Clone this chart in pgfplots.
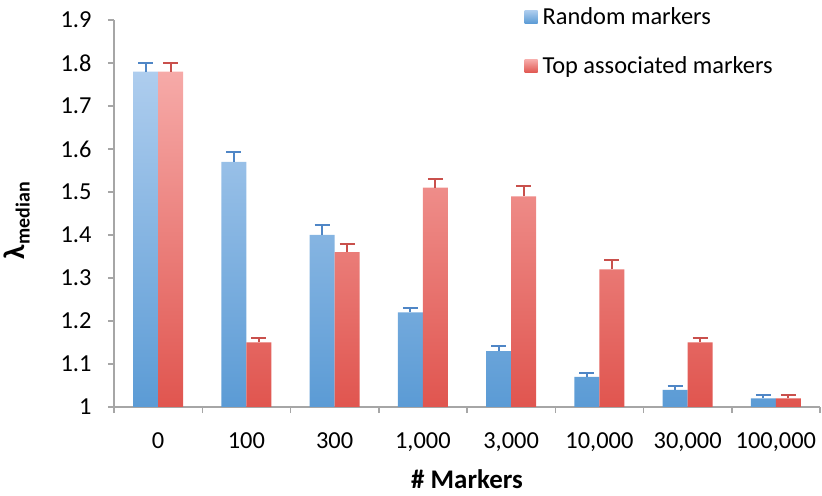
\documentclass[border=0pt]{standalone}
\usepackage{pgfplots}
\pgfplotsset{compat=1.18}
\usepackage{fontspec}
\setmainfont{Carlito}
\definecolor{bluetop}{HTML}{AECDEE}
\definecolor{bluebot}{HTML}{5B9BD5}
\definecolor{redtop}{HTML}{F6AAA8}
\definecolor{redbot}{HTML}{E0554F}
\definecolor{blueerr}{HTML}{4F86C6}
\definecolor{rederr}{HTML}{C9504C}
\definecolor{axgray}{HTML}{A6A6A6}
\begin{document}
\begin{tikzpicture}
\path[use as bounding box] (0,0) rectangle (822bp,496bp);
\begin{axis}[
  at={(114bp,89bp)}, anchor=south west,
  scale only axis, width=706bp, height=387bp,
  xmin=-0.5, xmax=7.5, ymin=1, ymax=1.9,
  axis lines*=left,
  axis line style={draw=axgray, line width=1.5bp},
  xtick={0,...,7},
  xticklabels={0,100,300,{1,000},{3,000},{10,000},{30,000},{100,000}},
  minor xtick={-0.5,0.5,...,7.5},
  ytick={1,1.1,...,1.9},
  yticklabels={1,1.1,1.2,1.3,1.4,1.5,1.6,1.7,1.8,1.9},
  tick align=outside,
  major x tick style={draw=none},
  minor x tick style={draw=axgray, line width=1.5bp},
  major y tick style={draw=axgray, line width=1.5bp},
  major tick length=6bp, minor tick length=6bp,
  /pgf/number format/assume math mode=true,
  ticklabel style={font=\fontsize{24.5}{27}\selectfont, text=black},
  xticklabel style={yshift=-16bp},
  yticklabel style={xshift=-13bp},
  xlabel={\bfseries \# Markers},
  xlabel style={font=\fontsize{27}{30}\selectfont, yshift=-11bp},
  ylabel={\bfseries λ\textsubscript{\fontsize{20}{22}\selectfont median}},
  ylabel style={font=\fontsize{30}{32}\selectfont, yshift=24bp, xshift=-7bp},
  ybar=0pt, bar width=25bp,
  legend style={at={(axis cs:4.15,1.935)}, anchor=north west, draw=none, fill=none,
    font=\fontsize{24.5}{27}\selectfont, row sep=27bp, inner sep=0pt,
    nodes={inner xsep=5bp}},
  legend cell align=left,
]
\addplot[draw=none, top color=bluetop, bottom color=bluebot, shading angle=0,
  legend image code/.code={\shade[top color=bluetop, bottom color=bluebot] (0bp,-7bp) rectangle (13bp,6bp);},
  error bars/.cd, y dir=plus, y explicit,
  error bar style={draw=blueerr, line width=2bp},
  error mark options={rotate=90, draw=blueerr, mark size=7.5bp, line width=2bp}]
coordinates {
(0,1.78) +- (0,0.02)
(1,1.57) +- (0,0.023)
(2,1.40) +- (0,0.024)
(3,1.22) +- (0,0.011)
(4,1.13) +- (0,0.012)
(5,1.07) +- (0,0.009)
(6,1.04) +- (0,0.008)
(7,1.02) +- (0,0.009)
};
\addplot[draw=none, top color=redtop, bottom color=redbot, shading angle=0,
  legend image code/.code={\shade[top color=redtop, bottom color=redbot] (0bp,-7bp) rectangle (13bp,6bp);},
  error bars/.cd, y dir=plus, y explicit,
  error bar style={draw=rederr, line width=2bp},
  error mark options={rotate=90, draw=rederr, mark size=7.5bp, line width=2bp}]
coordinates {
(0,1.78) +- (0,0.02)
(1,1.15) +- (0,0.011)
(2,1.36) +- (0,0.02)
(3,1.51) +- (0,0.02)
(4,1.49) +- (0,0.023)
(5,1.32) +- (0,0.023)
(6,1.15) +- (0,0.011)
(7,1.02) +- (0,0.009)
};
\legend{Random markers, Top associated markers}
\end{axis}
\end{tikzpicture}
\end{document}
